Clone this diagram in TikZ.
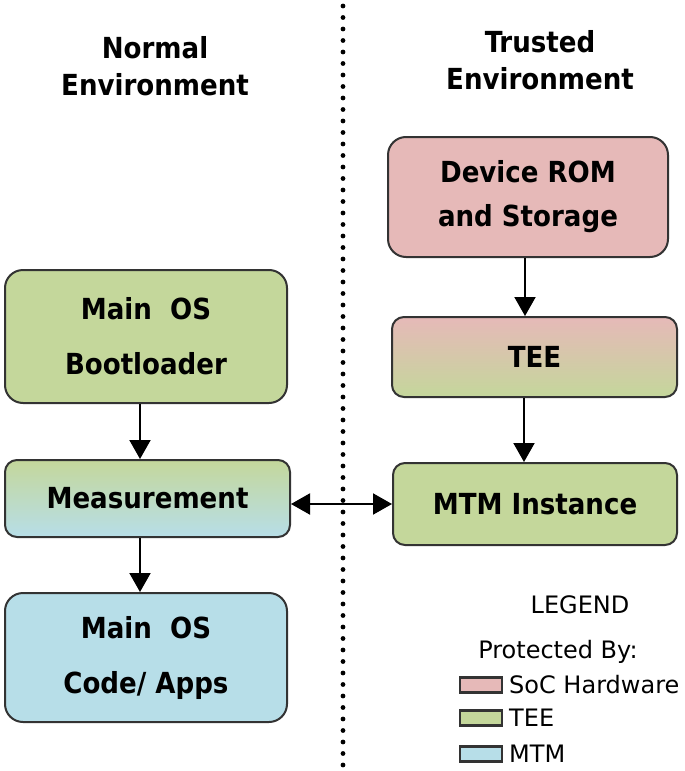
\documentclass[tikz,border=0pt]{standalone}
\usepackage{fontspec}
\setmainfont{DejaVu Sans}
\newfontfamily\condfont{DejaVu Sans Condensed}
\usetikzlibrary{arrows.meta}
\definecolor{socpink}{HTML}{E6B9B8}
\definecolor{teegreen}{HTML}{C4D79B}
\definecolor{mtmblue}{HTML}{B7DEE8}
\definecolor{edge}{HTML}{333333}
\tikzset{
  box/.style={draw=edge, line width=2pt, rounded corners=18pt, align=center, inner sep=0pt,
    font=\condfont\bfseries\fontsize{29}{55}\selectfont},
  smallbox/.style={box, rounded corners=12pt},
  arr/.style={line width=2pt, -{Triangle[width=21pt,length=19pt]}},
  darr/.style={line width=2pt, {Triangle[width=21pt,length=19pt]}-{Triangle[width=21pt,length=19pt]}},
  title/.style={font=\condfont\bfseries\fontsize{29}{37}\selectfont, align=center},
  legtext/.style={font=\fontsize{24}{28}\selectfont, anchor=west, inner sep=0pt},
  swatch/.style={draw=edge, line width=2.2pt, minimum width=42pt, minimum height=15pt, inner sep=0pt}
}
\begin{document}
\begin{tikzpicture}[x=1pt,y=-1pt]
\useasboundingbox (0,0) rectangle (685,771);
\draw[line width=4.8pt, line cap=round, dash pattern=on 0pt off 11.5pt] (343,6) -- (343,765);
\node[title] (tn) at (155,66) {Normal\\Environment};
\node[title] (tt) at (540,60) {Trusted\\Environment};
% right column
\node[box, fill=socpink, minimum width=280pt, minimum height=120pt, font=\condfont\bfseries\fontsize{29}{44}\selectfont] (rom) at (528,197) {Device ROM\\and Storage};
\node[smallbox, top color=socpink, bottom color=teegreen, minimum width=285pt, minimum height=80pt] (tee) at (534.5,357) {TEE};
\node[smallbox, fill=teegreen, minimum width=284pt, minimum height=82pt] (mtm) at (535,504) {MTM Instance};
% left column
\node[box, fill=teegreen, minimum width=282pt, minimum height=133pt] (boot) at (146,336.5) {Main\ \ OS\\Bootloader};
\node[smallbox, top color=teegreen, bottom color=mtmblue, minimum width=285pt, minimum height=77pt] (meas) at (147.5,498.5) {Measurement};
\node[box, fill=mtmblue, minimum width=282pt, minimum height=129pt] (apps) at (146,657.5) {Main\ \ OS\\Code/ Apps};
% arrows
\draw[arr] ([xshift=-3pt]rom.south) -- ([xshift=-9.5pt]tee.north);
\draw[arr] ([xshift=-10.5pt]tee.south) -- ([xshift=-11pt]mtm.north);
\draw[arr] ([xshift=-6pt]boot.south) -- ([xshift=-7.5pt]meas.north);
\draw[arr] ([xshift=-7.5pt]meas.south) -- ([xshift=-6pt]apps.north);
\draw[darr] (meas.east |- mtm.west) -- (mtm.west);
% legend
\node[font=\fontsize{24}{28}\selectfont, inner sep=0pt] (lg) at (580,605) {LEGEND};
\node[font=\fontsize{24}{28}\selectfont, inner sep=0pt] (pb) at (558,652) {Protected By:};
\node[swatch, fill=socpink] (s1) at (481,685) {};
\node[swatch, fill=teegreen] (s2) at (481,718) {};
\node[swatch, fill=mtmblue] (s3) at (481,754) {};
\node[legtext] (l1) at (509,685) {SoC Hardware};
\node[legtext] (l2) at (509,718) {TEE};
\node[legtext] (l3) at (509,754) {MTM};
\end{tikzpicture}
\end{document}
